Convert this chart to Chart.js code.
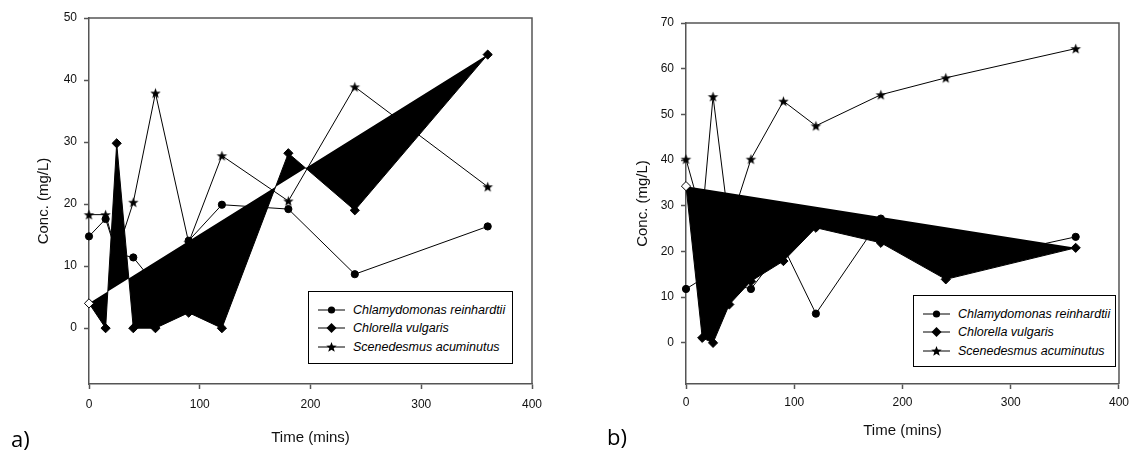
<!DOCTYPE html>
<html lang="en">
<head>
<meta charset="UTF-8">
<title>Algae concentration over time</title>
<script src="https://cdn.jsdelivr.net/npm/chart.js"></script>
<style>
  html, body { margin: 0; padding: 0; background: #fff; }
  body { width: 1135px; height: 452px; position: relative; overflow: hidden; font-family: 'Liberation Sans', Arial, sans-serif; }
  .panel { position: absolute; top: 0; height: 452px; }
  #panelA { left: 0; width: 560px; }
  #panelB { left: 560px; width: 575px; }
  .tag { position: absolute; font-family: 'Open Sans', sans-serif; font-size: 22px; line-height: 1; color: #000; }
  .legend { position: absolute; box-sizing: border-box; border: 1px solid #000; background: #fff;
            padding: 9px 0 0 9px; font-style: italic; font-size: 12.5px; color: #000; }
  .legend .row { display: flex; align-items: center; height: 18.3px; white-space: nowrap; }
  .legend svg { margin-right: 8px; flex: none; }
</style>
</head>
<body>

<div class="panel" id="panelA"><canvas id="chartA" width="560" height="452"></canvas></div>
<div class="panel" id="panelB"><canvas id="chartB" width="575" height="452"></canvas></div>

<div class="tag" style="left:11px; top:427px;">a)</div>
<div class="tag" style="left:607px; top:425px;">b)</div>

<!-- legends (html, placed inside the plot areas) -->
<div class="legend" style="left:308px; top:291px; width:205px; height:73px;">
  <div class="row"><svg width="27" height="12"><line x1="0" y1="6" x2="27" y2="6" stroke="#000"/><circle cx="13.5" cy="6" r="3.6"/></svg>Chlamydomonas reinhardtii</div>
  <div class="row"><svg width="27" height="12"><line x1="0" y1="6" x2="27" y2="6" stroke="#000"/><polygon points="13.5,1 18.5,6 13.5,11 8.5,6"/></svg>Chlorella vulgaris</div>
  <div class="row"><svg width="27" height="12"><line x1="0" y1="6" x2="27" y2="6" stroke="#000"/><polygon class="star" /></svg>Scenedesmus acuminutus</div>
</div>
<div class="legend" style="left:913px; top:295px; width:203px; height:72px;">
  <div class="row"><svg width="27" height="12"><line x1="0" y1="6" x2="27" y2="6" stroke="#000"/><circle cx="13.5" cy="6" r="3.6"/></svg>Chlamydomonas reinhardtii</div>
  <div class="row"><svg width="27" height="12"><line x1="0" y1="6" x2="27" y2="6" stroke="#000"/><polygon points="13.5,1 18.5,6 13.5,11 8.5,6"/></svg>Chlorella vulgaris</div>
  <div class="row"><svg width="27" height="12"><line x1="0" y1="6" x2="27" y2="6" stroke="#000"/><polygon class="star" /></svg>Scenedesmus acuminutus</div>
</div>

<script>
// sampling times (mins), same for both panels
const times = [0, 15, 25, 40, 60, 90, 120, 180, 240, 360];

// panel a) concentrations (mg/L)
const chlamA = [14.8, 17.6, 12, 11.4, 7, 14.1, 19.9, 19.2, 8.7, 16.4];
const chlorA = [4.0, 0, 29.8, 0, 0, 2.5, 0, 28.2, 19, 44.1];
const scenA  = [18.3, 18.3, 12, 20.3, 37.9, 13.8, 27.8, 20.5, 38.9, 22.8];

// panel b) concentrations (mg/L)
const chlamB = [11.8, 14, 16, 13, 11.8, 21, 6.4, 27.2, 17, 23.2];
const chlorB = [34.3, 1.1, 0, 8.4, 13.5, 17.9, 25.2, 21.9, 13.9, 20.8];
const scenB  = [40.2, 27.5, 53.9, 25.5, 40.2, 52.9, 47.5, 54.3, 58, 64.4];

const xTicks = [0, 100, 200, 300, 400];
const seriesNames = ['Chlamydomonas reinhardtii', 'Chlorella vulgaris', 'Scenedesmus acuminutus'];

function starPoints(cx, cy, r) {
    const p = [];
    for (let i = 0; i < 10; i++) {
        const rad = i % 2 === 0 ? r : r * 0.42;
        const a = -Math.PI / 2 + i * Math.PI / 5;
        p.push([cx + rad * Math.cos(a), cy + rad * Math.sin(a)]);
    }
    return p;
}

// filled star marker for the chart
function starImage(r) {
    const c = document.createElement('canvas');
    const s = Math.ceil(r * 2) + 2;
    c.width = s; c.height = s;
    const g = c.getContext('2d');
    g.beginPath();
    starPoints(s / 2, s / 2 + 0.5, r).forEach(([x, y], i) => i ? g.lineTo(x, y) : g.moveTo(x, y));
    g.closePath();
    g.fillStyle = '#000';
    g.fill();
    return c;
}
const star = starImage(5.5);

document.querySelectorAll('polygon.star').forEach(el => {
    el.setAttribute('points', starPoints(13.5, 6.4, 5.5).map(p => p.join(',')).join(' '));
});

const pts = (xs, ys) => xs.map((x, i) => ({x: x, y: ys[i]}));

// draws the top and right edges of the plot box
const frame = {
    id: 'frame',
    afterDatasetsDraw(chart) {
        const {ctx, chartArea: a} = chart;
        ctx.save();
        ctx.strokeStyle = '#555';
        ctx.lineWidth = 1.5;
        ctx.beginPath();
        ctx.moveTo(a.left, a.top);
        ctx.lineTo(a.right, a.top);
        ctx.lineTo(a.right, a.bottom);
        ctx.stroke();
        ctx.restore();
    }
};

function makeChart(id, chlam, chlor, scen, yMax, yAxisWidth, padTop, padRight, titlePad, xTickPad, xTitlePad) {
    const line = {borderColor: '#000', borderWidth: 1, pointBorderColor: '#000', pointBorderWidth: 1, clip: false};
    new Chart(document.getElementById(id), {
        type: 'line',
        data: {
            datasets: [
                Object.assign({}, line, {
                    label: seriesNames[0], data: pts(times, chlam),
                    pointStyle: 'circle', pointRadius: 3.6, pointBackgroundColor: '#000', order: 1
                }),
                Object.assign({}, line, {
                    label: seriesNames[1], data: pts(times, chlor),
                    pointStyle: 'rectRot', pointRadius: 4.6, order: 0,
                    fill: 3, backgroundColor: '#000',
                    pointBackgroundColor: c => c.dataIndex === 0 ? '#fff' : '#000'
                }),
                Object.assign({}, line, {
                    label: seriesNames[2], data: pts(times, scen),
                    pointStyle: star, pointRadius: 5, order: 1
                }),
                {   // closing edge of the Chlorella area (first to last point)
                    label: 'edge', data: [pts(times, chlor)[0], pts(times, chlor)[times.length - 1]],
                    borderWidth: 0, pointRadius: 0, borderColor: 'rgba(0,0,0,0)', order: 2
                }
            ]
        },
        options: {
            responsive: false,
            animation: false,
            layout: {padding: {top: padTop, right: padRight, left: 0, bottom: 0}},
            plugins: {legend: {display: false}, tooltip: {enabled: false}},
            scales: {
                x: {
                    type: 'linear', min: 0, max: 400,
                    afterBuildTicks: s => { s.ticks = xTicks.map(v => ({value: v})); },
                    afterFit: s => { s.height = 68; },
                    grid: {drawOnChartArea: false, tickLength: 5, tickColor: '#555', tickWidth: 1.5},
                    border: {color: '#555', width: 1.5},
                    ticks: {padding: xTickPad, color: '#111', font: {family: 'Liberation Sans', size: 12}},
                    title: {display: true, text: 'Time (mins)', color: '#111',
                            padding: {top: 0, bottom: xTitlePad}, font: {family: 'Liberation Sans', size: 15}}
                },
                y: {
                    min: -9, max: yMax,
                    afterFit: s => { s.width = yAxisWidth; },
                    grid: {drawOnChartArea: false, tickLength: 5, tickColor: '#555', tickWidth: 1.5},
                    border: {color: '#555', width: 1.5},
                    ticks: {stepSize: 10, includeBounds: false, padding: 7, color: '#111',
                            font: {family: 'Liberation Sans', size: 12}},
                    title: {display: true, text: 'Conc. (mg/L)', color: '#111',
                            padding: {top: titlePad, bottom: 0}, font: {family: 'Liberation Sans', size: 15}}
                }
            }
        },
        plugins: [frame]
    });
}

makeChart('chartA', chlamA, chlorA, scenA, 50, 89, 18, 28, 35, 8, 5);
makeChart('chartB', chlamB, chlorB, scenB, 70, 126, 23, 12, 73.5, 6, 12);
</script>
</body>
</html>
